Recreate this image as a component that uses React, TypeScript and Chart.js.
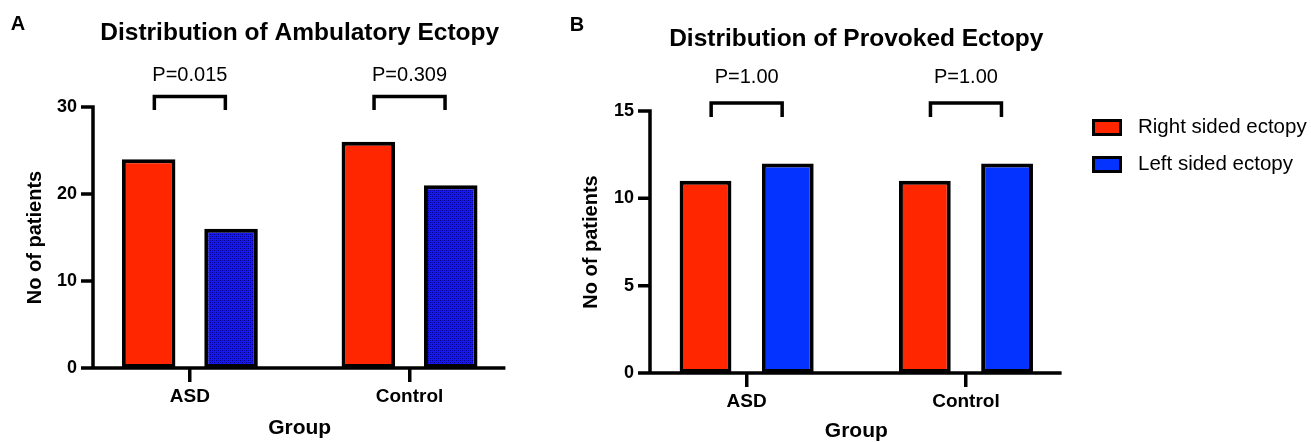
import React, { useEffect, useRef } from 'react';
import { Chart, registerables } from 'chart.js';

Chart.register(...registerables);

// ---------- data ----------
const categories = ['ASD', 'Control'];
const seriesNames = ['Right sided ectopy', 'Left sided ectopy'];

const ambulatoryTitle = 'Distribution of Ambulatory Ectopy';
const ambulatoryRight = [24, 26];
const ambulatoryLeft = [16, 21];
const ambulatoryP = ['P=0.015', 'P=0.309'];
const ambulatoryTicks = [0, 10, 20, 30];

const provokedTitle = 'Distribution of Provoked Ectopy';
const provokedRight = [11, 11];
const provokedLeft = [12, 12];
const provokedP = ['P=1.00', 'P=1.00'];
const provokedTicks = [0, 5, 10, 15];

const xTitle = 'Group';
const yTitle = 'No of patients';
const panelLetters = ['A', 'B'];

// ---------- style ----------
const FONT = '"Liberation Sans", Arial, Helvetica, sans-serif';
const RED = '#FF2600';
const BLUE = '#0433FF';
const LW = 3.5;

function makePattern(): CanvasPattern | string {
  const c = document.createElement('canvas');
  c.width = 4;
  c.height = 4;
  const g = c.getContext('2d');
  if (!g) return '#1818dc';
  g.fillStyle = 'rgb(24,24,240)';
  g.fillRect(0, 0, 4, 4);
  g.fillStyle = 'rgb(0,0,130)';
  g.fillRect(0, 0, 1, 1);
  g.fillRect(2, 2, 1, 1);
  g.fillStyle = 'rgb(10,10,190)';
  g.fillRect(2, 0, 1, 1);
  g.fillRect(0, 2, 1, 1);
  const ctx = document.createElement('canvas').getContext('2d');
  return (ctx && ctx.createPattern(c, 'repeat')) || '#1818dc';
}

const decorPlugin = {
  id: 'decor',
  afterDraw(chart: any, _args: any, opts: any) {
    const { ctx, chartArea, scales } = chart;
    const x = scales.x;
    const y = scales.y;
    ctx.save();
    ctx.strokeStyle = '#000';
    ctx.fillStyle = '#000';
    ctx.lineWidth = LW;
    ctx.lineCap = 'butt';
    ctx.lineJoin = 'miter';

    // y axis line + ticks
    const ax = chartArea.left + 13;
    const yTop = y.getPixelForValue(y.max);
    ctx.beginPath();
    ctx.moveTo(ax, yTop - LW / 2);
    ctx.lineTo(ax, chartArea.bottom);
    y.ticks.forEach((t: any) => {
      const py = y.getPixelForValue(t.value);
      ctx.moveTo(chartArea.left + 1, py);
      ctx.lineTo(ax + LW / 2, py);
    });
    // x axis line
    ctx.moveTo(chartArea.left + 1, chartArea.bottom);
    ctx.lineTo(chartArea.right - 14, chartArea.bottom);
    ctx.stroke();

    // brackets + p values
    ctx.font = `20px ${FONT}`;
    ctx.textAlign = 'center';
    ctx.textBaseline = 'middle';
    (opts.pLabels as string[]).forEach((label, i) => {
      const cx = x.getPixelForValue(i);
      const hw = 35.5;
      const top = chartArea.top + opts.bracketTop;
      const bot = chartArea.top + opts.bracketBottom;
      ctx.beginPath();
      ctx.moveTo(cx - hw, bot);
      ctx.lineTo(cx - hw, top);
      ctx.lineTo(cx + hw, top);
      ctx.lineTo(cx + hw, bot);
      ctx.stroke();
      ctx.fillText(label, cx, chartArea.top + opts.pY);
    });

    // panel letter
    ctx.font = `bold 20px ${FONT}`;
    ctx.fillText(opts.letter, opts.letterX, opts.letterY);
    ctx.restore();
  },
};

function buildConfig(p: {
  title: string;
  right: number[];
  left: number[];
  leftColor: any;
  pLabels: string[];
  ticks: number[];
  padRight: number;
  titlePadTop: number;
  titlePadBottom: number;
  xHeight: number;
  xTitlePadBottom: number;
  yWidth: number;
  yTitlePadTop: number;
  barPct: number;
  bracketTop: number;
  bracketBottom: number;
  pY: number;
  letter: string;
  letterX: number;
  letterY: number;
}): any {
  const common = {
    borderColor: '#000',
    borderWidth: 4,
    borderSkipped: false,
    categoryPercentage: 0.75,
    barPercentage: p.barPct,
  };
  return {
    type: 'bar',
    data: {
      labels: categories,
      datasets: [
        { label: seriesNames[0], data: p.right, backgroundColor: RED, ...common },
        { label: seriesNames[1], data: p.left, backgroundColor: p.leftColor, ...common },
      ],
    },
    options: {
      responsive: false,
      animation: false,
      devicePixelRatio: 1,
      layout: { padding: { left: 0, top: 0, right: p.padRight, bottom: 0 } },
      plugins: {
        legend: { display: false },
        tooltip: { enabled: false },
        title: {
          display: true,
          text: p.title,
          fullSize: false,
          color: '#000',
          font: { family: FONT, size: 24.5, weight: 'bold', lineHeight: 1 },
          padding: { top: p.titlePadTop, bottom: p.titlePadBottom },
        },
        decor: {
          pLabels: p.pLabels,
          bracketTop: p.bracketTop,
          bracketBottom: p.bracketBottom,
          pY: p.pY,
          letter: p.letter,
          letterX: p.letterX,
          letterY: p.letterY,
        },
      },
      scales: {
        x: {
          type: 'category',
          offset: true,
          grid: {
            display: true,
            offset: false,
            drawOnChartArea: false,
            drawTicks: true,
            tickLength: 14,
            tickWidth: LW,
            tickColor: '#000',
            color: '#000',
            lineWidth: LW,
          },
          border: { display: false },
          ticks: {
            color: '#000',
            font: { family: FONT, size: 19, weight: 'bold' },
            padding: 3,
            maxRotation: 0,
            autoSkip: false,
          },
          title: {
            display: true,
            text: xTitle,
            color: '#000',
            font: { family: FONT, size: 21, weight: 'bold', lineHeight: 1 },
            padding: { top: 0, bottom: p.xTitlePadBottom },
          },
          afterFit: (s: any) => {
            s.height = p.xHeight;
          },
        },
        y: {
          min: p.ticks[0],
          max: p.ticks[p.ticks.length - 1],
          grid: { display: false, drawTicks: false },
          border: { display: false },
          ticks: {
            color: '#000',
            font: { family: FONT, size: 18, weight: 'bold' },
            padding: 3,
          },
          afterBuildTicks: (s: any) => {
            s.ticks = p.ticks.map((v) => ({ value: v }));
          },
          title: {
            display: true,
            text: yTitle,
            color: '#000',
            font: { family: FONT, size: 20, weight: 'bold', lineHeight: 1 },
            padding: { top: p.yTitlePadTop, bottom: 0 },
          },
          afterFit: (s: any) => {
            s.width = p.yWidth;
          },
        },
      },
    },
    plugins: [decorPlugin],
  };
}

export default function App() {
  const refA = useRef<HTMLCanvasElement>(null);
  const refB = useRef<HTMLCanvasElement>(null);

  useEffect(() => {
    if (!refA.current || !refB.current) return;
    const pattern = makePattern();
    const a = new Chart(
      refA.current,
      buildConfig({
        title: ambulatoryTitle,
        right: ambulatoryRight,
        left: ambulatoryLeft,
        leftColor: pattern,
        pLabels: ambulatoryP,
        ticks: ambulatoryTicks,
        padRight: 40.6,
        titlePadTop: 21,
        titlePadBottom: 61.5,
        xHeight: 74,
        xTitlePadBottom: 3.5,
        yWidth: 80,
        yTitlePadTop: 25,
        barPct: 0.65,
        bracketTop: -10.5,
        bracketBottom: 3,
        pY: -32,
        letter: panelLetters[0],
        letterX: 18,
        letterY: 24,
      })
    );
    const b = new Chart(
      refB.current,
      buildConfig({
        title: provokedTitle,
        right: provokedRight,
        left: provokedLeft,
        leftColor: BLUE,
        pLabels: provokedP,
        ticks: provokedTicks,
        padRight: 44.4,
        titlePadTop: 27,
        titlePadBottom: 59.5,
        xHeight: 69,
        xTitlePadBottom: 0,
        yWidth: 77,
        yTitlePadTop: 21,
        barPct: 0.63,
        bracketTop: -8,
        bracketBottom: 6,
        pY: -33.5,
        letter: panelLetters[1],
        letterX: 17,
        letterY: 25,
      })
    );
    return () => {
      a.destroy();
      b.destroy();
    };
  }, []);

  return (
    <div
      style={{
        position: 'absolute',
        left: 0,
        top: 0,
        width: 1311,
        height: 442,
        background: '#fff',
        overflow: 'hidden',
      }}
    >
      <canvas ref={refA} width={560} height={442} style={{ position: 'absolute', left: 0, top: 0 }} />
      <canvas ref={refB} width={560} height={442} style={{ position: 'absolute', left: 560, top: 0 }} />
      <div style={{ position: 'absolute', left: 1092, top: 119 }}>
        {seriesNames.map((name, i) => (
          <React.Fragment key={name}>
            <div
              style={{
                position: 'absolute',
                left: 0,
                top: i * 37,
                width: 30,
                height: 17,
                boxSizing: 'border-box',
                border: '3px solid #000',
                background: i === 0 ? RED : BLUE,
              }}
            />
            <div
              style={{
                position: 'absolute',
                left: 46,
                top: i * 37 - 3.25,
                fontFamily: FONT,
                fontSize: '20.5px',
                lineHeight: '20.5px',
                color: '#000',
                whiteSpace: 'nowrap',
              }}
            >
              {name}
            </div>
          </React.Fragment>
        ))}
      </div>
    </div>
  );
}
